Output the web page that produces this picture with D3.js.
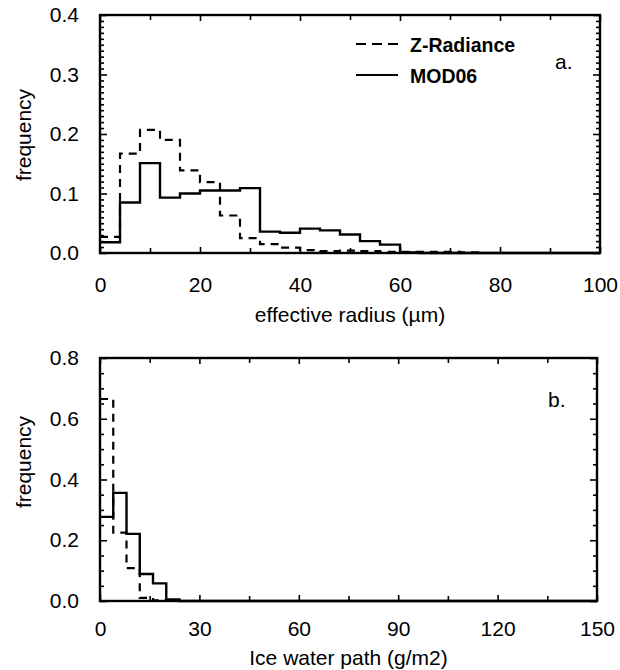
<!DOCTYPE html>
<html>
<head>
<meta charset="utf-8">
<script src="https://cdn.jsdelivr.net/npm/d3@7"></script>
<style>
  body { margin: 0; background: #fff; }
  svg { display: block; font-family: "Liberation Sans", Arial, sans-serif; }
  .tick text { font-size: 21px; fill: #000; }
  .tick line { stroke: #000; stroke-width: 1.6; }
</style>
</head>
<body>
<svg id="chart" width="620" height="670"></svg>
<script>
// panel a: effective radius histogram (bin edges in µm)
const reEdges = [0, 4, 8, 12, 16, 20, 24, 28, 32, 36, 40, 44, 48, 52, 56, 60, 64, 68, 72, 76, 100];
const zRadianceRe = [0.027, 0.167, 0.207, 0.190, 0.139, 0.119, 0.063, 0.025, 0.015, 0.009,
                     0.005, 0.003, 0.004, 0.003, 0.002, 0.002, 0.002, 0.002, 0.001, 0];
const mod06Re = [0.018, 0.085, 0.151, 0.093, 0.100, 0.105, 0.105, 0.109, 0.036, 0.034,
                 0.041, 0.038, 0.031, 0.020, 0.014, 0.001, 0, 0, 0, 0];
const reMajorTicks = [0, 20, 40, 60, 80, 100];
const reMinorTicks = [10, 30, 50, 70, 90];
const freqMajorA = [0.0, 0.1, 0.2, 0.3, 0.4];

// panel b: ice water path histogram (bin edges in g/m2)
const iwpEdges = [0, 4, 8, 12, 16, 20, 24, 150];
const zRadianceIwp = [0.665, 0.225, 0.108, 0.010, 0.002, 0, 0];
const mod06Iwp = [0.277, 0.356, 0.221, 0.089, 0.058, 0.005, 0];
const iwpMajorTicks = [0, 30, 60, 90, 120, 150];
const iwpMinorTicks = [15, 45, 75, 105, 135];
const freqMajorB = [0.0, 0.2, 0.4, 0.6, 0.8];

const legendNames = ["Z-Radiance", "MOD06"];

const DASH = "8,6";
const svg = d3.select("#chart");

function stepPoints(edges, values) {
    const pts = values.map((v, i) => [edges[i], v]);
    pts.push([edges[edges.length - 1], values[values.length - 1]]);
    return pts;
}

function drawPanel(p) {
    const x = d3.scaleLinear().domain(p.xDomain).range([p.left, p.right]);
    const y = d3.scaleLinear().domain(p.yDomain).range([p.bottom, p.top]);
    const g = svg.append("g");

    // minor ticks, all four sides
    const minorY = d3.range(p.yDomain[0], p.yDomain[1] + 1e-9, p.yMinorStep)
        .filter(v => !p.yMajor.some(m => Math.abs(m - v) < 1e-9));
    const noLabel = () => "";
    g.append("g").attr("transform", `translate(0,${p.bottom})`)
        .call(d3.axisBottom(x).tickValues(p.xMinor).tickSize(-5).tickFormat(noLabel));
    g.append("g").attr("transform", `translate(0,${p.top})`)
        .call(d3.axisTop(x).tickValues(p.xMinor).tickSize(-5).tickFormat(noLabel));
    g.append("g").attr("transform", `translate(${p.left},0)`)
        .call(d3.axisLeft(y).tickValues(minorY).tickSize(-4).tickFormat(noLabel));
    g.append("g").attr("transform", `translate(${p.right},0)`)
        .call(d3.axisRight(y).tickValues(minorY).tickSize(-4).tickFormat(noLabel));

    // major ticks with labels
    g.append("g").attr("transform", `translate(0,${p.bottom})`)
        .call(d3.axisBottom(x).tickValues(p.xMajor).tickSize(-6).tickPadding(p.xPad).tickFormat(d3.format("d")));
    g.append("g").attr("transform", `translate(0,${p.top})`)
        .call(d3.axisTop(x).tickValues(p.xMajor).tickSize(-6).tickFormat(noLabel));
    g.append("g").attr("transform", `translate(${p.left},0)`)
        .call(d3.axisLeft(y).tickValues(p.yMajor).tickSize(-7).tickPadding(21).tickFormat(d3.format(".1f")));
    g.append("g").attr("transform", `translate(${p.right},0)`)
        .call(d3.axisRight(y).tickValues(p.yMajor).tickSize(-7).tickFormat(noLabel));

    g.selectAll(".domain").remove();

    const line = d3.line().x(d => x(d[0])).y(d => y(d[1])).curve(d3.curveStepAfter);

    g.append("path")
        .attr("d", line(stepPoints(p.edges, p.dashed)))
        .attr("fill", "none").attr("stroke", "#000").attr("stroke-width", 2.2)
        .attr("stroke-dasharray", DASH);
    g.append("path")
        .attr("d", line(stepPoints(p.edges, p.solid)))
        .attr("fill", "none").attr("stroke", "#000").attr("stroke-width", 2.4);

    // frame
    g.append("rect")
        .attr("x", p.left).attr("y", p.top)
        .attr("width", p.right - p.left).attr("height", p.bottom - p.top)
        .attr("fill", "none").attr("stroke", "#000").attr("stroke-width", 2.4);

    g.append("text")
        .attr("x", (p.left + p.right) / 2).attr("y", p.titleY)
        .attr("text-anchor", "middle").attr("font-size", 21)
        .text(p.xTitle);
    g.append("text")
        .attr("transform", `translate(31,${p.yTitleY}) rotate(-90)`)
        .attr("text-anchor", "middle").attr("font-size", 21)
        .text("frequency");
    g.append("text")
        .attr("x", p.tagX).attr("y", p.tagY)
        .attr("font-size", 21)
        .text(p.tag);

    return g;
}

const gA = drawPanel({
    xDomain: [0, 100], yDomain: [0, 0.4],
    left: 100, right: 600, top: 15, bottom: 253,
    xMajor: reMajorTicks, xMinor: reMinorTicks, xPad: 24,
    yMajor: freqMajorA, yMinorStep: 0.01,
    edges: reEdges, dashed: zRadianceRe, solid: mod06Re,
    xTitle: "effective radius (µm)", titleY: 322, yTitleY: 135,
    tag: "a.", tagX: 555, tagY: 69
});

const gB = drawPanel({
    xDomain: [0, 150], yDomain: [0, 0.8],
    left: 100, right: 597, top: 358, bottom: 601,
    xMajor: iwpMajorTicks, xMinor: iwpMinorTicks, xPad: 20,
    yMajor: freqMajorB, yMinorStep: 0.05,
    edges: iwpEdges, dashed: zRadianceIwp, solid: mod06Iwp,
    xTitle: "Ice water path (g/m2)", titleY: 665, yTitleY: 462,
    tag: "b.", tagX: 548, tagY: 407
});

// legend in panel a
const legend = gA.append("g").attr("font-weight", "bold").attr("font-size", 19.5);
legendNames.forEach((name, i) => {
    const ly = 44 + i * 31;
    legend.append("line")
        .attr("x1", 356).attr("x2", 398).attr("y1", ly).attr("y2", ly)
        .attr("stroke", "#000").attr("stroke-width", 2.2)
        .attr("stroke-dasharray", i === 0 ? "10,6" : null);
    legend.append("text")
        .attr("x", 410).attr("y", ly + 8)
        .text(name);
});
</script>
</body>
</html>
